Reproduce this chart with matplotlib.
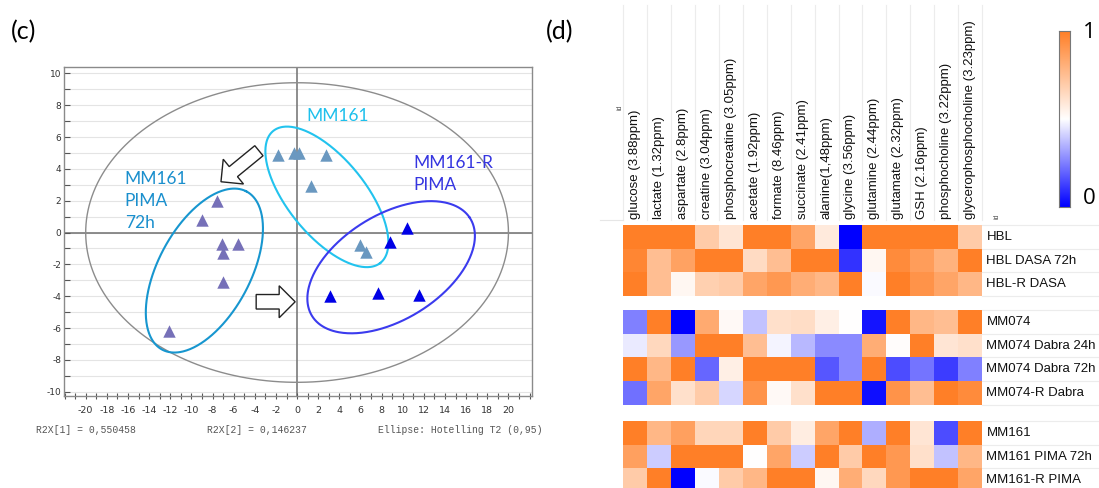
import numpy as np
import matplotlib
matplotlib.use("Agg")
import matplotlib.pyplot as plt
from matplotlib.colors import LinearSegmentedColormap
from matplotlib.patches import Polygon
from matplotlib.lines import Line2D

plt.rcParams["axes.unicode_minus"] = False

# ---------------- data: score plot (c) ----------------
mm161_x = [-1.8, -0.3, 0.2, 2.7, 1.3, 6.0, 6.5]
mm161_y = [4.85, 5.0, 5.0, 4.9, 2.95, -0.8, -1.2]
pima72_x = [-7.6, -9.0, -7.1, -5.6, -7.0, -7.0, -12.1]
pima72_y = [2.0, 0.8, -0.7, -0.7, -1.3, -3.1, -6.2]
mm161r_x = [10.4, 8.8, 3.1, 7.7, 11.5]
mm161r_y = [0.3, -0.6, -4.0, -3.8, -3.9]
r2x_1 = "0,550458"
r2x_2 = "0,146237"

# ---------------- data: heatmap (d) ----------------
metabolites = ["glucose (3.88ppm)", "lactate (1.32ppm)", "aspartate (2.8ppm)",
               "creatine (3.04ppm)", "phosphocreatine (3.05ppm)", "acetate (1.92ppm)",
               "formate (8.46ppm)", "succinate (2.41ppm)", "alanine(1,48ppm)",
               "glycine (3.56ppm)", "glutamine (2.44ppm)", "glutamate (2.32ppm)",
               "GSH (2.16ppm)", "phosphocholine (3.22ppm)", "glycerophosphocholine (3.23ppm)"]
group1_rows = ["HBL", "HBL DASA 72h", "HBL-R DASA"]
group1_vals = [
    [1.0, 1.0, 1.0, 0.70, 0.60, 1.0, 1.0, 0.85, 0.58, 0.0, 1.0, 1.0, 1.0, 1.0, 0.70],
    [0.97, 0.75, 0.86, 1.0, 1.0, 0.64, 0.75, 1.0, 1.0, 0.10, 0.53, 0.95, 0.88, 0.80, 1.0],
    [1.0, 0.75, 0.53, 0.68, 0.70, 0.85, 0.90, 0.82, 0.78, 1.0, 0.49, 1.0, 0.92, 0.85, 0.78],
]
group2_rows = ["MM074", "MM074 Dabra 24h", "MM074 Dabra 72h", "MM074-R Dabra"]
group2_vals = [
    [0.25, 1.0, 0.0, 0.83, 0.52, 0.38, 0.62, 0.63, 0.56, 0.50, 0.04, 1.0, 0.78, 0.75, 1.0],
    [0.46, 0.65, 0.30, 1.0, 1.0, 0.75, 0.48, 0.36, 0.27, 0.27, 0.82, 0.51, 1.0, 0.60, 0.62],
    [1.0, 0.78, 1.0, 0.20, 0.56, 1.0, 1.0, 1.0, 0.17, 0.27, 1.0, 0.15, 0.23, 0.12, 0.25],
    [0.22, 0.85, 0.62, 0.70, 0.42, 0.92, 0.52, 0.62, 1.0, 1.0, 0.03, 0.92, 0.75, 1.0, 0.95],
]
group3_rows = ["MM161", "MM161 PIMA 72h", "MM161-R PIMA"]
group3_vals = [
    [1.0, 0.78, 0.87, 0.66, 0.66, 1.0, 0.70, 0.57, 0.85, 1.0, 0.34, 1.0, 0.60, 0.15, 1.0],
    [0.87, 0.40, 1.0, 1.0, 1.0, 0.50, 0.85, 0.40, 1.0, 0.70, 1.0, 0.90, 0.62, 0.38, 0.78],
    [0.70, 1.0, 0.0, 0.49, 0.70, 0.78, 1.0, 1.0, 0.53, 0.82, 0.65, 0.90, 1.0, 1.0, 0.85],
]

# ---------------- figure ----------------
W, H = 1099, 488
fig = plt.figure(figsize=(W / 100, H / 100), dpi=100)


def px_axes(l, t, r, b):
    return fig.add_axes([l / W, 1 - b / H, (r - l) / W, (b - t) / H])


def ftext(x, y, s, **kw):
    return fig.text(x / W, 1 - y / H, s, **kw)


def fline(x1, y1, x2, y2, **kw):
    fig.add_artist(Line2D([x1 / W, x2 / W], [1 - y1 / H, 1 - y2 / H], **kw))


# ----- panel (c) -----
AX_L, AX_T, AX_R, AX_B = 63.5, 67.3, 531.7, 396.0
XLIM = (-22.1, 22.2)
YLIM = (-10.27, 10.38)
ax = px_axes(AX_L, AX_T, AX_R, AX_B)
ax.set_xlim(*XLIM)
ax.set_ylim(*YLIM)
sx = (AX_R - AX_L) / (XLIM[1] - XLIM[0])   # px per data unit
sy = (AX_B - AX_T) / (YLIM[1] - YLIM[0])

for yy in range(-10, 11):
    ax.axhline(yy, color="#e4e4e4", lw=0.8, zorder=0)
ax.axhline(0, color="#7a7a7a", lw=1.2, zorder=1)
ax.axvline(0, color="#7a7a7a", lw=1.2, zorder=1)

for s in ax.spines.values():
    s.set_color("#8a8a8a")
    s.set_linewidth(1.0)

ax.set_xticks(np.arange(-20, 21, 2))
ax.set_xticks(np.arange(-22, 23, 1), minor=True)
ax.set_yticks(np.arange(-10, 11, 2))
ax.set_yticks(np.arange(-10, 11, 1), minor=True)
ax.tick_params(axis="x", which="both", direction="inout", length=5, width=0.8,
               color="#555555", labelsize=6.8, labelcolor="#333333", pad=5)
ax.tick_params(axis="y", which="both", direction="in", length=4, width=0.8,
               color="#555555", labelsize=6.5, labelcolor="#333333", pad=1.5)

# ellipse shape units (px per data unit as measured on the reference)
E_SX, E_SY = 10.27, 15.9


def ellipse(cx, cy, a_px, b_px, ang_deg):
    t = np.linspace(0, 2 * np.pi, 400)
    th = np.radians(ang_deg)
    u, v = a_px * np.cos(t), b_px * np.sin(t)
    dx = u * np.cos(th) - v * np.sin(th)
    dy = u * np.sin(th) + v * np.cos(th)
    return cx + dx / E_SX, cy + dy / E_SY


# Hotelling T2 ellipse (semi-axes in data units)
t = np.linspace(0, 2 * np.pi, 400)
ax.plot(20.0 * np.cos(t), 9.41 * np.sin(t), color="#8c8c8c", lw=1.0, zorder=2)

# group ellipses: centre (data), semi-axes (px), angle (deg)
ex, ey = ellipse(2.82, 2.24, 84, 38, -52)
ax.plot(ex, ey, color="#22c3ee", lw=1.5, zorder=3)
ex, ey = ellipse(-8.77, -2.39, 89, 45, 63)
ax.plot(ex, ey, color="#1796cf", lw=1.5, zorder=3)
ex, ey = ellipse(8.9, -2.18, 91, 52, 33)
ax.plot(ex, ey, color="#3b3bee", lw=1.5, zorder=3)

ax.scatter(mm161_x, mm161_y, marker="^", s=80, color="#6a98c0", zorder=5, linewidths=0)
ax.scatter(pima72_x, pima72_y, marker="^", s=80, color="#7670b8", zorder=5, linewidths=0)
ax.scatter(mm161r_x, mm161r_y, marker="^", s=80, color="#0000e6", zorder=5, linewidths=0)


def block_arrow(tail, tip, tw, hw, hl):
    """hollow block arrow; widths/lengths in pixels, ends in data units"""
    x0, y0 = tail[0] * sx, tail[1] * sy
    x1, y1 = tip[0] * sx, tip[1] * sy
    L = np.hypot(x1 - x0, y1 - y0)
    ux, uy = (x1 - x0) / L, (y1 - y0) / L
    nx, ny = -uy, ux
    pts_local = [(0, tw / 2), (L - hl, tw / 2), (L - hl, hw / 2), (L, 0),
                 (L - hl, -hw / 2), (L - hl, -tw / 2), (0, -tw / 2)]
    pts = [((x0 + a * ux + b * nx) / sx, (y0 + a * uy + b * ny) / sy) for a, b in pts_local]
    ax.add_patch(Polygon(pts, closed=True, fc="white", ec="#222222", lw=1.0, zorder=6,
                         joinstyle="miter"))


block_arrow((-3.61, 5.14), (-7.2, 3.19), 13, 32, 16)
block_arrow((-3.87, -4.35), (-0.18, -4.35), 14.5, 32, 16)

lab_font = "Lato"
ax.text(0.9, 7.3, "MM161", color="#1ec0ec", fontsize=12.5, family=lab_font,
        ha="left", va="center", zorder=7)
ax.text(-16.3, 3.85, "MM161\nPIMA\n72h", color="#1a8fcd", fontsize=12.5, family=lab_font,
        ha="left", va="top", linespacing=1.45, zorder=7)
ax.text(11.0, 4.85, "MM161-R\nPIMA", color="#3535e0", fontsize=12.5, family=lab_font,
        ha="left", va="top", linespacing=1.45, zorder=7)

mono = dict(family="Liberation Mono", fontsize=7, color="#555555", va="center", ha="left")
ftext(36, 430, "R2X[1] = " + r2x_1, **mono)
ftext(207, 430, "R2X[2] = " + r2x_2, **mono)
ftext(378, 430, "Ellipse: Hotelling T2 (0,95)", **mono)

ftext(11, 32, "(c)", fontsize=18, family=lab_font, va="center", ha="left")
ftext(546, 32, "(d)", fontsize=18, family=lab_font, va="center", ha="left")

# ----- panel (d) -----
HM_L, HM_R, HM_T = 623.3, 982.0, 225.0
ROW_H = 23.7
group_tops = [225.0, 310.0, 421.0]
cmap = LinearSegmentedColormap.from_list("bwo", ["#0000ff", "#ffffff", "#ff7f27"])

ax2 = px_axes(HM_L, HM_T, HM_R, H)
ax2.set_xlim(0, len(metabolites))
ax2.set_ylim(H, HM_T)
ax2.axis("off")

groups = [(group1_rows, group1_vals), (group2_rows, group2_vals), (group3_rows, group3_vals)]
col_w = (HM_R - HM_L) / len(metabolites)
txt = dict(family="Liberation Sans", fontsize=9.5, color="#111111")

# faint separator lines
for i in range(len(metabolites) + 1):
    fline(HM_L + i * col_w, 5, HM_L + i * col_w, 220, color="#ececec", lw=0.8)
fline(600, 220, HM_L, 220, color="#e6e6e6", lw=0.8)

for (rows, vals), top in zip(groups, group_tops):
    yedges = top + ROW_H * np.arange(len(rows) + 1)
    ax2.pcolormesh(np.arange(len(metabolites) + 1), yedges, np.array(vals),
                   cmap=cmap, vmin=0, vmax=1, shading="flat")
    for k, name in enumerate(rows):
        ftext(HM_R + 4.5, top + ROW_H * (k + 0.5), name, ha="left", va="center", **txt)
        fline(HM_R, top + ROW_H * k, W, top + ROW_H * k, color="#ececec", lw=0.8)
    fline(HM_R, yedges[-1], W, yedges[-1], color="#ececec", lw=0.8)

for i, m in enumerate(metabolites):
    ftext(HM_L + col_w * (i + 0.5), 219, m, rotation=90, ha="center", va="bottom", **txt)

ftext(619.5, 107, "id", rotation=90, fontsize=5, family="Liberation Sans", color="#555555",
      ha="center", va="center")
ftext(997, 216, "id", rotation=90, fontsize=5, family="Liberation Sans", color="#555555",
      ha="center", va="center")

# colorbar
cax = px_axes(1059.3, 31, 1070, 206.7)
cax.imshow(np.linspace(1, 0, 256)[:, None], aspect="auto", cmap=cmap, vmin=0, vmax=1)
cax.set_xticks([])
cax.set_yticks([])
for s in cax.spines.values():
    s.set_color("#777777")
    s.set_linewidth(0.8)
ftext(1083, 33, "1", fontsize=16, family="Open Sans", ha="left", va="center")
ftext(1083, 199, "0", fontsize=16, family="Open Sans", ha="left", va="center")

fig.savefig("out.png", dpi=100)
